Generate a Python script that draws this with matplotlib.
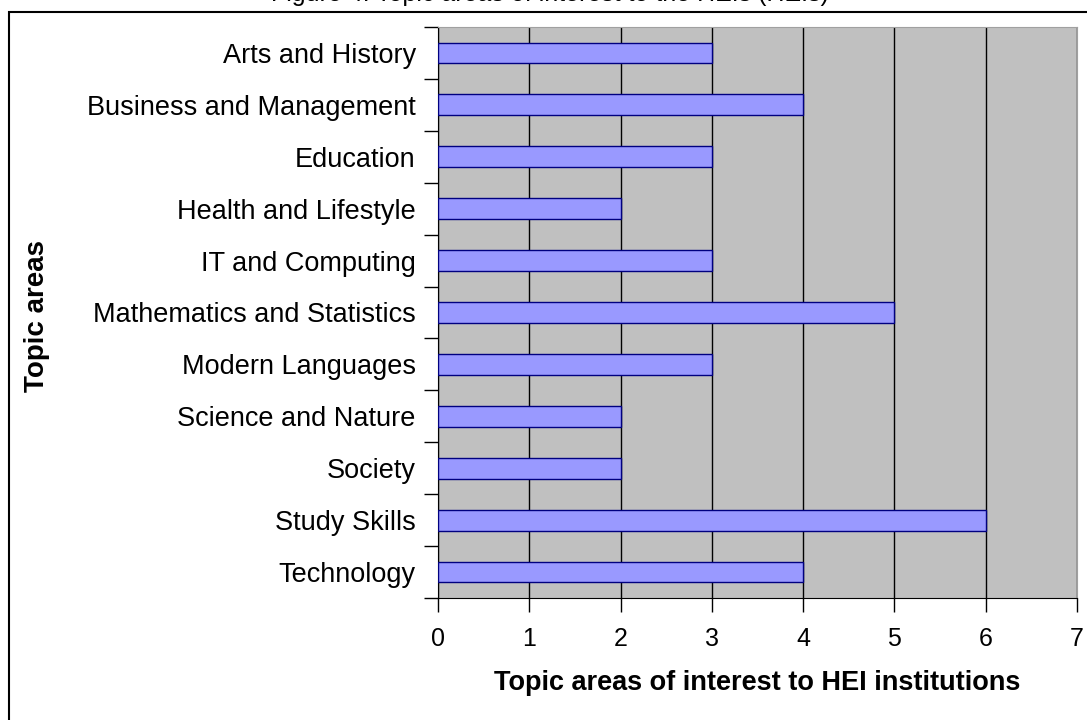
import matplotlib
matplotlib.use("Agg")
import matplotlib.pyplot as plt
from matplotlib.patches import Rectangle

categories = ["Arts and History", "Business and Management", "Education",
              "Health and Lifestyle", "IT and Computing", "Mathematics and Statistics",
              "Modern Languages", "Science and Nature", "Society", "Study Skills",
              "Technology"]
values = [3, 4, 3, 2, 3, 5, 3, 2, 2, 6, 4]
x_ticks = [0, 1, 2, 3, 4, 5, 6, 7]

plt.rcParams['font.family'] = ['Liberation Sans', 'DejaVu Sans']

W, H = 1087, 720
fig = plt.figure(figsize=(W / 100, H / 100), dpi=100)
fig.patch.set_facecolor('white')

# outer chart border (extends beyond the image on right/bottom)
fig.patches.append(Rectangle((9 / W, -0.1), 1.2, 1 - 12 / H + 0.1,
                             transform=fig.transFigure, fill=False,
                             edgecolor='black', linewidth=1.5, clip_on=False))
fig.text(550 / W, 1 - 1.5 / H, "Figure 4: Topic areas of interest to the HEIs (HEIs)",
         ha='center', va='baseline', fontsize=18)

left, right, top, bottom = 438, 1077, 27, 598
ax = fig.add_axes([left / W, 1 - bottom / H, (right - left) / W, (bottom - top) / H])
ax.set_facecolor('#C0C0C0')

n = len(categories)
ypos = list(range(n))
ax.barh(ypos, values, height=0.4, color='#9999FF', edgecolor='#000080',
        linewidth=1, zorder=3)
ax.set_xlim(0, 7)
ax.set_ylim(n - 0.5, -0.5)
ax.set_xticks(x_ticks)
ax.set_xticklabels([str(t) for t in x_ticks], fontsize=18)
ax.xaxis.grid(True, color='black', linewidth=1, zorder=1)
ax.set_axisbelow(True)

ax.set_yticks(ypos)
ax.set_yticklabels(categories, fontsize=19.5)
ax.tick_params(axis='y', length=0, pad=16)
ax.set_yticks([i - 0.5 for i in range(n + 1)], minor=True)
ax.tick_params(axis='y', which='minor', length=10, width=1, color='black')
ax.tick_params(axis='x', length=10, width=1, pad=11, direction='out')

for s in ['top', 'right']:
    ax.spines[s].set_color('#A0A0A0')
for s in ['left', 'bottom']:
    ax.spines[s].set_color('black')

fig.text(757 / W, 1 - 683 / H, "Topic areas of interest to HEI institutions",
         ha='center', va='center', fontsize=19.5, fontweight='bold')
fig.text(37 / W, 1 - 316 / H, "Topic areas", rotation=90, ha='center', va='center',
         fontsize=20, fontweight='bold')

fig.savefig("out.png", dpi=100)
